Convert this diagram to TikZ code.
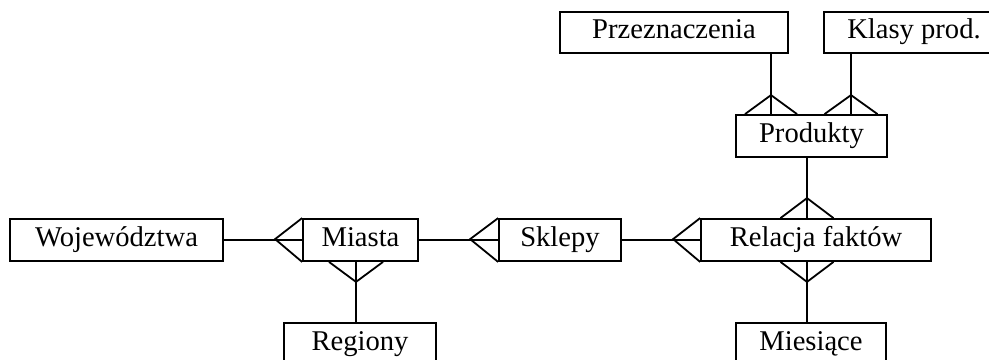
\documentclass[tikz,border=0pt]{standalone}
\usepackage{fontspec}
\setmainfont{Liberation Serif}
\usetikzlibrary{calc}
\begin{document}
\begin{tikzpicture}[x=0.5pt,y=-0.5pt,
  ent/.style={draw,line width=0.9pt,inner sep=0pt,minimum height=21pt,
    text height=10pt,text depth=3.6pt,
    font=\fontsize{14.3}{16}\selectfont},
  conn/.style={line width=0.9pt}]
\useasboundingbox (0,0) rectangle (989,359);
\clip (0,0) rectangle (989,359);
% entities
\node[ent,minimum width=114pt,minimum height=20.5pt] (prz) at (674,32.5) {Przeznaczenia};
\node[ent,minimum width=90pt,minimum height=20.5pt] (kla) at (914,32.5) {Klasy prod.};
\node[ent,minimum width=75.5pt] (pro) at (811.5,136) {Produkty};
\node[ent,minimum width=115pt] (rel) at (816,240) {Relacja faktów};
\node[ent,minimum width=75pt] (mie) at (811,344) {Miesiące};
\node[ent,minimum width=61pt] (skl) at (560,240) {Sklepy};
\node[ent,minimum width=57.5pt] (mia) at (360.5,240) {Miasta};
\node[ent,minimum width=106.5pt] (woj) at (116.5,240) {Województwa};
\node[ent,minimum width=76pt] (reg) at (360,344) {Regiony};
% connectors
\draw[conn] (prz.south -| 771,0) -- (pro.north -| 771,0);
\draw[conn] ($(pro.north -| 771,0)+(-26,0)$) -- ++(26,-19) -- ++(26,19);
\draw[conn] (kla.south -| 851,0) -- (pro.north -| 851,0);
\draw[conn] ($(pro.north -| 851,0)+(-26.5,0)$) -- ++(26.5,-19) -- ++(26.5,19);
\draw[conn] (pro.south -| 807,0) -- (rel.north -| 807,0);
\draw[conn] ($(rel.north -| 807,0)+(-26.5,0)$) -- ++(26.5,-20) -- ++(26.5,20);
\draw[conn] (rel.south -| 807,0) -- (mie.north -| 807,0);
\draw[conn] ($(rel.south -| 807,0)+(-26.5,0)$) -- ++(26.5,20) -- ++(26.5,-20);
\draw[conn] (mia.south -| 356,0) -- (reg.north -| 356,0);
\draw[conn] ($(mia.south -| 356,0)+(-27,0)$) -- ++(27,20) -- ++(27,-20);
\draw[conn] (woj.east) -- (mia.west);
\draw[conn] (mia.north west) -- ++(-27,21) -- (mia.south west);
\draw[conn] (mia.east) -- (skl.west);
\draw[conn] (skl.north west) -- ++(-28,21) -- (skl.south west);
\draw[conn] (skl.east) -- (rel.west);
\draw[conn] (rel.north west) -- ++(-27,21) -- (rel.south west);
\end{tikzpicture}
\end{document}
